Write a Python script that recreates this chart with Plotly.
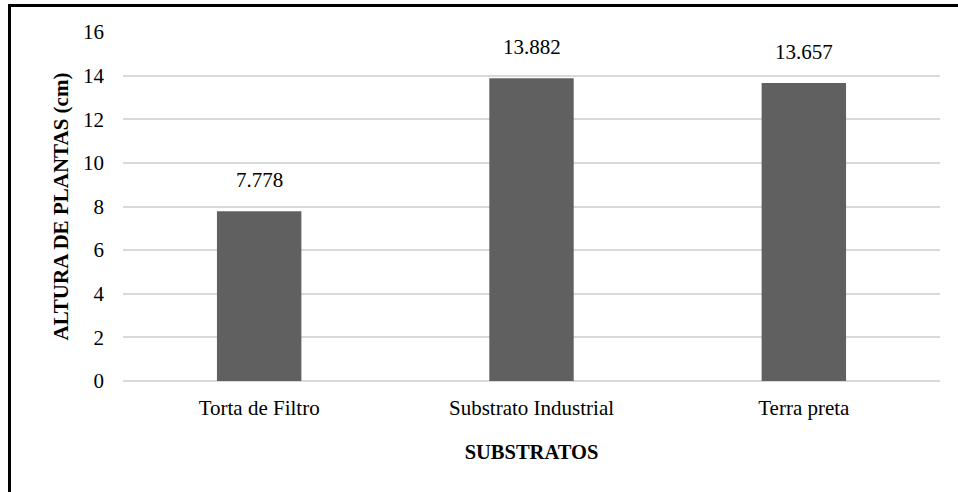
import plotly.graph_objects as go

# Plant height by substrate
substratos = ["Torta de Filtro", "Substrato Industrial", "Terra preta"]
altura = [7.778, 13.882, 13.657]
y_ticks = [0, 2, 4, 6, 8, 10, 12, 14, 16]

W, H = 958, 492
ML, MR, MT, MB = 123, 18, 32, 111
pw, ph = W - ML - MR, H - MT - MB

font_family = "Liberation Serif"

fig = go.Figure(
    go.Bar(
        x=substratos,
        y=altura,
        marker=dict(color="#606060", line=dict(width=0)),
        hoverinfo="x+y",
    )
)

# value labels above each bar
for cat, val in zip(substratos, altura):
    fig.add_annotation(
        x=cat, y=val, text=f"{val:.3f}", showarrow=False,
        yanchor="bottom", yshift=17,
        font=dict(family=font_family, size=21, color="#000000"),
    )

# outer frame around the chart
def px_x(v):
    return (v - ML) / pw

def px_y(v):
    return (H - MB - v) / ph

fig.add_shape(
    type="rect", xref="paper", yref="paper",
    x0=px_x(9.5), x1=px_x(965), y0=px_y(498), y1=px_y(5.5),
    line=dict(color="#000000", width=3), fillcolor="rgba(0,0,0,0)",
)

fig.update_layout(
    width=W, height=H,
    margin=dict(l=ML, r=MR, t=MT, b=MB),
    plot_bgcolor="#ffffff", paper_bgcolor="#ffffff",
    bargap=0.69,
    showlegend=False,
    font=dict(family=font_family, size=21, color="#000000"),
    xaxis=dict(
        showgrid=False, showline=False, zeroline=False,
        ticks="", ticklabelstandoff=12,
        tickfont=dict(family=font_family, size=21, color="#000000"),
        title=dict(text="<b>SUBSTRATOS</b>", standoff=25,
                   font=dict(family=font_family, size=20.5, color="#000000")),
    ),
    yaxis=dict(
        range=[0, 16], tickvals=y_ticks,
        showgrid=True, gridcolor="#d9d9d9", gridwidth=1.5,
        zeroline=True, zerolinecolor="#d9d9d9", zerolinewidth=1.5,
        showline=False, ticks="", ticklabelstandoff=18,
        tickfont=dict(family=font_family, size=21, color="#000000"),
        title=dict(text="<b>ALTURA DE PLANTAS (cm)</b>", standoff=8,
                   font=dict(family=font_family, size=21, color="#000000")),
    ),
)

fig.write_html("out.html")
